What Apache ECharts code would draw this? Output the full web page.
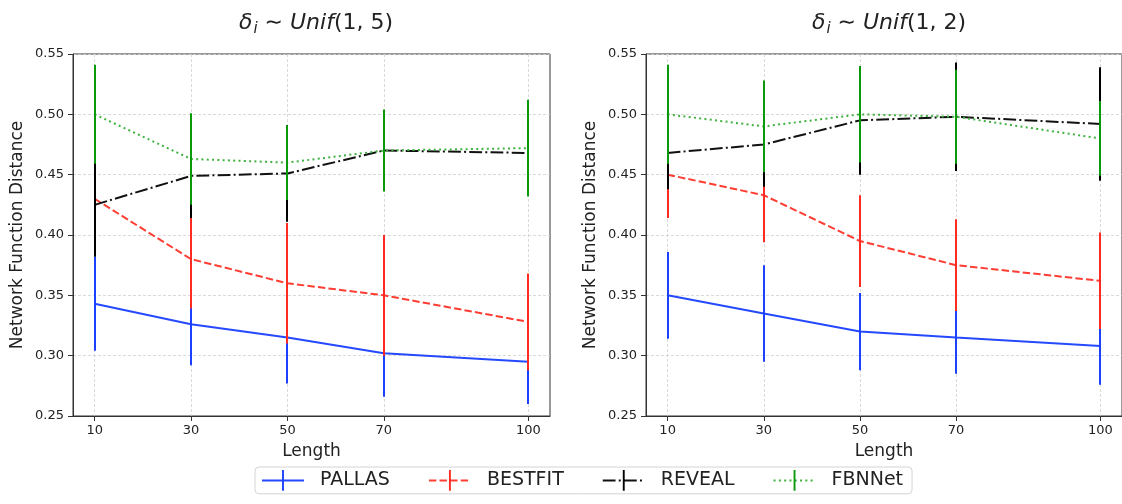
<!DOCTYPE html>
<html>
<head>
<meta charset="utf-8">
<title>Network Function Distance vs Length</title>
<script src="https://cdn.jsdelivr.net/npm/echarts@6/dist/echarts.min.js"></script>
<style>
  html, body { margin: 0; padding: 0; background: #fff; }
  #chart { width: 1122px; height: 504px; }
</style>
</head>
<body>
<div id="chart"></div>
<script>
// Sequence lengths (x values and x tick labels)
const lengths = [10, 30, 50, 70, 100];

// Panel 1: delta_i ~ Unif(1, 5) — means and error half-widths
const pallasMeanA  = [0.343, 0.326, 0.315, 0.302, 0.295];
const pallasErrA   = [0.039, 0.034, 0.038, 0.036, 0.035];
const bestfitMeanA = [0.430, 0.380, 0.360, 0.350, 0.328];
const bestfitErrA  = [0.035, 0.041, 0.050, 0.050, 0.040];
const revealMeanA  = [0.425, 0.449, 0.451, 0.470, 0.468];
const revealErrA   = [0.043, 0.035, 0.040, 0.030, 0.030];
const fbnnetMeanA  = [0.500, 0.463, 0.460, 0.470, 0.472];
const fbnnetErrA   = [0.041, 0.038, 0.031, 0.034, 0.040];

// Panel 2: delta_i ~ Unif(1, 2)
const pallasMeanB  = [0.350, 0.335, 0.320, 0.315, 0.308];
const pallasErrB   = [0.036, 0.040, 0.032, 0.030, 0.032];
const bestfitMeanB = [0.450, 0.433, 0.395, 0.375, 0.362];
const bestfitErrB  = [0.036, 0.039, 0.038, 0.038, 0.040];
const revealMeanB  = [0.468, 0.475, 0.495, 0.498, 0.492];
const revealErrB   = [0.030, 0.035, 0.045, 0.045, 0.047];
const fbnnetMeanB  = [0.500, 0.490, 0.500, 0.498, 0.480];
const fbnnetErrB   = [0.041, 0.038, 0.040, 0.039, 0.031];

const FONT = "'DejaVu Sans', 'Liberation Sans', sans-serif";
const TEXT = '#222';

// Method styles: line colour, error bar colour, dash pattern
const methods = [
  { name: 'PALLAS',  line: '#2549ff', bar: '#1b40ff', dash: 'solid' },
  { name: 'BESTFIT', line: '#ff3d33', bar: '#ff2a22', dash: [7.4, 3.2] },
  { name: 'REVEAL',  line: '#111111', bar: '#000000', dash: [12.8, 3.2, 2, 3.2] },
  { name: 'FBNNet',  line: '#3fb23f', bar: '#0a990a', dash: [2, 3.3] }
];

const panels = [
  { means: [pallasMeanA, bestfitMeanA, revealMeanA, fbnnetMeanA],
    errs:  [pallasErrA, bestfitErrA, revealErrA, fbnnetErrA] },
  { means: [pallasMeanB, bestfitMeanB, revealMeanB, fbnnetMeanB],
    errs:  [pallasErrB, bestfitErrB, revealErrB, fbnnetErrB] }
];

// Vertical bar used as the legend marker (square bounding box keeps it thin)
const barSymbol = 'path://M10 0h2v22h-2Z M0 0h0.001v0.001h-0.001Z M21.999 21.999h0.001v0.001h-0.001Z';

// Error bars: a 2px filled strip per row [x, low, high, methodIndex],
// snapped to whole pixels so stacked bars cover each other cleanly;
// later methods are stacked above earlier ones via z2.
function renderErrorBar(params, api) {
  const x = api.value(0);
  const mi = api.value(3);
  const top = api.coord([x, api.value(2)]);
  const bottom = api.coord([x, api.value(1)]);
  return {
    type: 'rect',
    z2: 10 + mi * 10,
    shape: { x: Math.round(top[0]) - 1, y: top[1], width: 2, height: bottom[1] - top[1] },
    style: { fill: methods[mi].bar, stroke: null, lineWidth: 0 }
  };
}

const series = [];
panels.forEach(function (panel, pi) {
  const barRows = [];
  methods.forEach(function (m, mi) {
    const mean = panel.means[mi];
    const err = panel.errs[mi];
    series.push({
      name: m.name,
      type: 'line',
      xAxisIndex: pi,
      yAxisIndex: pi,
      data: lengths.map(function (x, i) { return [x, mean[i]]; }),
      symbol: barSymbol,
      showSymbol: false,
      silent: true,
      z: 2,
      itemStyle: { color: m.bar },
      lineStyle: { color: m.line, width: 2, type: m.dash },
      emphasis: { disabled: true },
      animation: false
    });
    lengths.forEach(function (x, i) {
      barRows.push([x, mean[i] - err[i], mean[i] + err[i], mi]);
    });
  });
  series.push({
    name: 'error bars ' + (pi + 1),
    type: 'custom',
    xAxisIndex: pi,
    yAxisIndex: pi,
    data: barRows,
    encode: { x: 0, y: [1, 2] },
    renderItem: renderErrorBar,
    silent: true,
    z: 3,
    animation: false
  });
});

const gridBase = { top: 54, width: 477, height: 362, show: true, borderColor: '#333', borderWidth: 1 };

function xAxisFor(gi) {
  return {
    type: 'value', gridIndex: gi, min: 5.5, max: 104.5,
    name: 'Length', nameLocation: 'middle', nameGap: 27,
    nameTextStyle: { fontFamily: FONT, fontSize: 17, color: TEXT },
    axisLine: { lineStyle: { color: '#333', width: 1 } },
    axisTick: { show: true, length: 5, customValues: lengths, lineStyle: { color: '#333' } },
    axisLabel: { customValues: lengths, margin: 8, fontFamily: FONT, fontSize: 13, color: TEXT },
    splitLine: { show: true, lineStyle: { color: '#cfcfcf', width: 0.8, type: [3, 2] } }
  };
}

function yAxisFor(gi) {
  return {
    type: 'value', gridIndex: gi, min: 0.25, max: 0.55, interval: 0.05,
    name: 'Network Function Distance', nameLocation: 'middle', nameGap: 47,
    nameTextStyle: { fontFamily: FONT, fontSize: 17, color: TEXT },
    axisLine: { show: true, lineStyle: { color: '#333', width: 1 } },
    axisTick: { show: true, length: 5, lineStyle: { color: '#333' } },
    axisLabel: { margin: 9, fontFamily: FONT, fontSize: 13, color: TEXT,
                 formatter: function (v) { return v.toFixed(2); } },
    splitLine: { show: true, lineStyle: { color: '#cfcfcf', width: 0.8, type: [3, 2] } }
  };
}

function titleFor(center, label) {
  return {
    text: '{m|δ}{s|i}{r| ∼ }{m|Unif}{r|' + label + '}',
    left: center, top: 5, textAlign: 'center',
    textStyle: {
      fontWeight: 'normal',
      rich: {
        m: { fontFamily: FONT, fontSize: 22, fontStyle: 'italic', fontWeight: 'normal', color: TEXT },
        s: { fontFamily: FONT, fontSize: 15, fontStyle: 'italic', fontWeight: 'normal', color: TEXT, padding: [12, 0, 0, 1] },
        r: { fontFamily: FONT, fontSize: 22, fontWeight: 'normal', color: TEXT }
      }
    }
  };
}

const chart = echarts.init(document.getElementById('chart'), null, { renderer: 'canvas' });
chart.setOption({
  animation: false,
  backgroundColor: '#fff',
  title: [titleFor(311, '(1, 5)'), titleFor(884, '(1, 2)')],
  legend: {
    data: methods.map(function (m) { return m.name; }),
    left: 255, top: 467,
    orient: 'horizontal',
    itemWidth: 42, itemHeight: 26, itemGap: 38,
    padding: [3, 9, 3, 6],
    borderColor: '#d4d4d4', borderWidth: 1, borderRadius: 4,
    selectedMode: false,
    textStyle: { fontFamily: FONT, fontSize: 19, color: TEXT, padding: [0, 0, 0, 11] }
  },
  grid: [Object.assign({ left: 73 }, gridBase), Object.assign({ left: 646 }, gridBase)],
  xAxis: [xAxisFor(0), xAxisFor(1)],
  yAxis: [yAxisFor(0), yAxisFor(1)],
  series: series
});
</script>
</body>
</html>
